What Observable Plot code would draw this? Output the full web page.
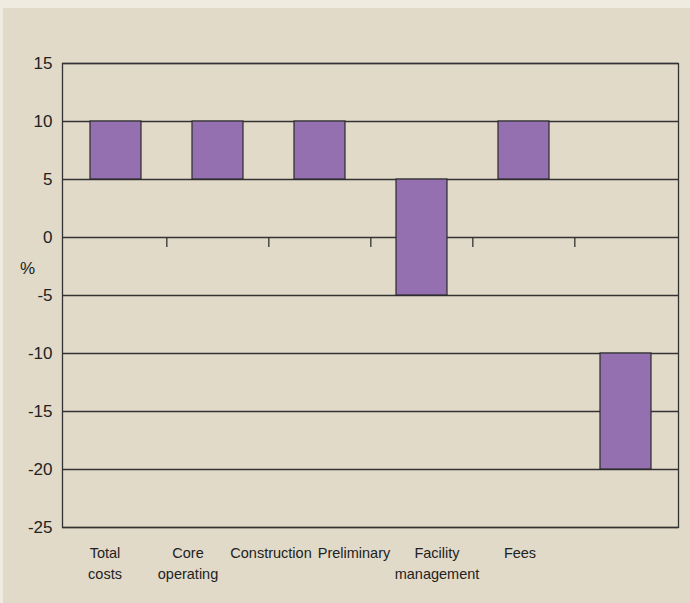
<!DOCTYPE html>
<html>
<head>
<meta charset="utf-8">
<script src="https://cdn.jsdelivr.net/npm/d3@7"></script>
<script src="https://cdn.jsdelivr.net/npm/@observablehq/plot@0.6"></script>
<style>
  html, body { margin: 0; padding: 0; background: #f0ebe0; }
  #wrap { position: relative; width: 690px; height: 603px; overflow: hidden; }
  #panel { position: absolute; left: 3px; top: 8px; right: 0; bottom: 0; background: #e1dac8; }
  #chart, #labels { position: absolute; left: 0; top: 0; }
  svg { background: transparent !important; }
</style>
</head>
<body>
<div id="wrap">
  <div id="panel"></div>
  <div id="chart"></div>
  <div id="labels"></div>
</div>
<script>
// Cost categories and the range (low to high, %) of each change
const categories = ["Total costs", "Core operating", "Construction", "Preliminary", "Facility management", "Fees"];
const categoryLabels = ["Total\ncosts", "Core\noperating", "Construction", "Preliminary", "Facility\nmanagement", "Fees"];
const lowValues = [5, 5, 5, -5, 5, -20];
const highValues = [10, 10, 10, 5, 10, -10];
const yTicks = [15, 10, 5, 0, -5, -10, -15, -20, -25];

const rows = categories.map((c, i) => ({category: c, low: lowValues[i], high: highValues[i]}));

const W = 690, H = 603;
const mLeft = 62, mRight = 12, mTop = 63, mBottom = 76;
const step = (W - mLeft - mRight) / categories.length;
const ink = "#333";

const chart = Plot.plot({
  width: W,
  height: H,
  marginLeft: mLeft,
  marginRight: mRight,
  marginTop: mTop,
  marginBottom: mBottom,
  style: {fontFamily: "'Liberation Sans', Arial, sans-serif", fontSize: "17px", color: "#222", background: "transparent"},
  x: {domain: categories, padding: 0, axis: null},
  y: {domain: [-25, 15], ticks: yTicks, tickSize: 0, tickPadding: 10, label: null, tickFormat: d => String(d)},
  marks: [
    Plot.ruleY(yTicks, {stroke: ink, strokeWidth: 1.3}),
    // short ticks on the zero line between categories
    Plot.ruleX(categories.slice(0, -1), {x: d => d, y1: 0, y2: 0, insetBottom: -10, dx: step / 2, stroke: ink, strokeWidth: 1.3}),
    Plot.barY(rows, {x: "category", y1: "low", y2: "high", fill: "#9470b0", stroke: "#2a2a2a", strokeWidth: 1.2, insetLeft: 26, insetRight: 25}),
    Plot.frame({stroke: ink, strokeWidth: 1.3}),
    Plot.text(["%"], {text: d => d, frameAnchor: "left", textAnchor: "middle", dx: -35, dy: -27, fontSize: 17, fill: "#222"})
  ]
});
document.getElementById("chart").appendChild(chart);

// Category names under the plot
const labels = Plot.plot({
  width: W,
  height: H,
  marginLeft: 60,
  marginRight: 127,
  marginTop: 543,
  marginBottom: 10,
  style: {fontFamily: "'Liberation Sans Narrow', 'Liberation Sans', Arial, sans-serif", fontSize: "14.5px", background: "transparent"},
  x: {type: "band", domain: categories, padding: 0, axis: null},
  marks: [
    Plot.text(categories, {x: d => d, text: (d, i) => categoryLabels[i], frameAnchor: "top", lineAnchor: "top", lineHeight: 1.45, fill: "#222", fontSize: 14.5})
  ]
});
document.getElementById("labels").appendChild(labels);
</script>
</body>
</html>
